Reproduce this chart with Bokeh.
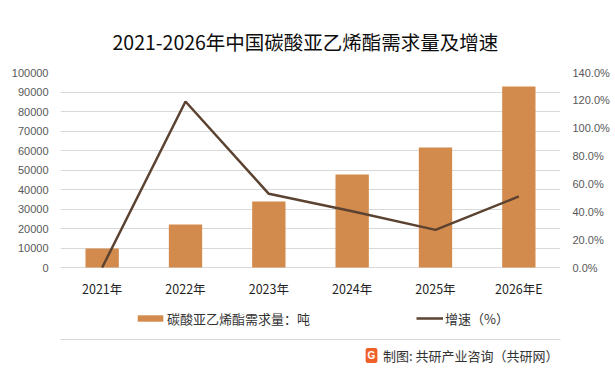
from bokeh.plotting import figure
from bokeh.models import (Range1d, LinearAxis, FactorRange, ColumnDataSource, Legend,
                          LegendItem, Label, BoxAnnotation, FixedTicker, PrintfTickFormatter)
from bokeh.embed import file_html
from bokeh.resources import INLINE

# ---- data ----
years = ["2021年", "2022年", "2023年", "2024年", "2025年", "2026年E"]
demand = [9800, 22000, 33800, 47700, 61500, 92800]        # 吨
growth = [0.0, 119.2, 52.9, 40.4, 27.0, 51.0]              # %
left_ticks = [0, 10000, 20000, 30000, 40000, 50000, 60000, 70000, 80000, 90000, 100000]
right_ticks = [0, 20, 40, 60, 80, 100, 120, 140]

title_text = "2021-2026年中国碳酸亚乙烯酯需求量及增速"
bar_label = "碳酸亚乙烯酯需求量：吨"
line_label = "增速（%）"
footer_text = "制图: 共研产业咨询（共研网）"

CJK = "Noto Sans CJK SC"
BAR_COLOR = "#D38B4D"
LINE_COLOR = "#5C4230"
GRID = "#D9D9D9"

# ---- layout geometry (pixels) ----
W, H = 615, 374
F_LEFT, F_RIGHT, F_TOP, F_BOT = 60, 560, 72, 370   # plot frame on the canvas
ZERO_Y = 267                                        # where value 0 sits
AXIS_PX = ZERO_Y - F_TOP                            # 195 px for the full value scale
below_px = F_BOT - ZERO_Y                           # extra frame space under the zero line
y_lo = -below_px / AXIS_PX * 100000
pct_lo = -below_px / AXIS_PX * 140

src = ColumnDataSource(dict(year=years, demand=demand, growth=growth))

p = figure(x_range=FactorRange(*years), y_range=Range1d(y_lo, 100000),
           width=W, height=H, output_backend="svg", toolbar_location=None,
           min_border_left=F_LEFT, min_border_right=W - F_RIGHT,
           min_border_top=F_TOP, min_border_bottom=H - F_BOT)
p.extra_y_ranges = {"pct": Range1d(pct_lo, 140)}
p.outline_line_color = None
p.background_fill_color = "white"
p.border_fill_color = "white"

p.title.text = title_text
p.title.align = "left"
p.title.offset = 52
p.title.text_font = CJK
p.title.text_font_size = "19.5px"
p.title.text_font_style = "normal"
p.title.text_color = "#0D0D0D"
p.title.standoff = 33

p.xgrid.visible = False
p.ygrid.grid_line_color = GRID
p.ygrid.ticker = FixedTicker(ticks=left_ticks)

# left axis
ya = p.yaxis[0]
ya.ticker = FixedTicker(ticks=left_ticks)
ya.formatter = PrintfTickFormatter(format="%d")
ya.axis_line_color = None
ya.major_tick_line_color = None
ya.major_tick_out = 0
ya.major_tick_in = 0
ya.minor_tick_line_color = None
ya.major_label_standoff = 12
ya.major_label_text_font = "Liberation Sans"
ya.major_label_text_font_size = "11px"
ya.major_label_text_color = "#595959"

# right axis
ra = LinearAxis(y_range_name="pct", ticker=FixedTicker(ticks=right_ticks),
                formatter=PrintfTickFormatter(format="%.1f%%"))
ra.axis_line_color = None
ra.major_tick_line_color = None
ra.major_tick_out = 0
ra.major_tick_in = 0
ra.minor_tick_line_color = None
ra.major_label_standoff = 12
ra.major_label_text_font = "Liberation Sans"
ra.major_label_text_font_size = "11px"
ra.major_label_text_color = "#595959"
p.add_layout(ra, "right")

# x axis: drawn just under the zero line (the zero grid line is the base line)
LBL_TOP = 278
STANDOFF = -20
xa = p.xaxis[0]
xa.fixed_location = -((LBL_TOP - STANDOFF) - ZERO_Y) / AXIS_PX * 100000
xa.axis_line_color = None
xa.major_tick_line_color = None
xa.major_tick_out = 0
xa.major_tick_in = 0
xa.minor_tick_line_color = None
xa.major_label_standoff = STANDOFF
xa.major_label_text_font = CJK
xa.major_label_text_font_size = "12.5px"
xa.major_label_text_color = "#1F1F1F"

bars = p.vbar(x="year", top="demand", width=0.4, source=src,
              fill_color=BAR_COLOR, line_color=None)
line = p.line(x="year", y="growth", y_range_name="pct", source=src,
              line_color=LINE_COLOR, line_width=2.5)

def make_legend(item_label, rend, loc, gw, gh, standoff):
    lg = Legend(items=[LegendItem(label=item_label, renderers=[rend])], location=loc)
    lg.label_text_font = CJK
    lg.label_text_font_size = "13px"
    lg.label_text_color = "#333333"
    lg.glyph_width = gw
    lg.glyph_height = gh
    lg.label_height = 14
    lg.label_standoff = standoff
    lg.padding = 0
    lg.margin = 0
    lg.spacing = 0
    lg.border_line_color = None
    lg.background_fill_alpha = 0
    return lg

LEG_BOTTOM = F_BOT - 327.5
p.add_layout(make_legend(bar_label, bars, (74, LEG_BOTTOM), 32, 8, 1))
p.add_layout(make_legend(line_label, line, (356, LEG_BOTTOM), 27, 8, 2))

# separator rule
SEP = F_BOT - 339
p.add_layout(BoxAnnotation(left=-33, right=548, top=SEP + 0.5, bottom=SEP - 0.5,
                           left_units="screen", right_units="screen",
                           top_units="screen", bottom_units="screen",
                           fill_color=GRID, fill_alpha=1, line_color=None))

# source note with logo
FOOT_Y = F_BOT - 355
p.add_layout(Label(x=311, y=FOOT_Y, x_units="screen", y_units="screen", text="G",
                   text_align="center", text_baseline="middle", text_font="Liberation Sans",
                   text_font_style="bold", text_font_size="10px", text_color="white",
                   background_fill_color="#F0612A", padding=2, border_radius=2))
p.add_layout(Label(x=498, y=FOOT_Y, x_units="screen", y_units="screen", text=footer_text,
                   text_align="right", text_baseline="middle", text_font=CJK,
                   text_font_size="13px", text_color="#333333"))

open("out.html", "w").write(file_html(p, INLINE))
